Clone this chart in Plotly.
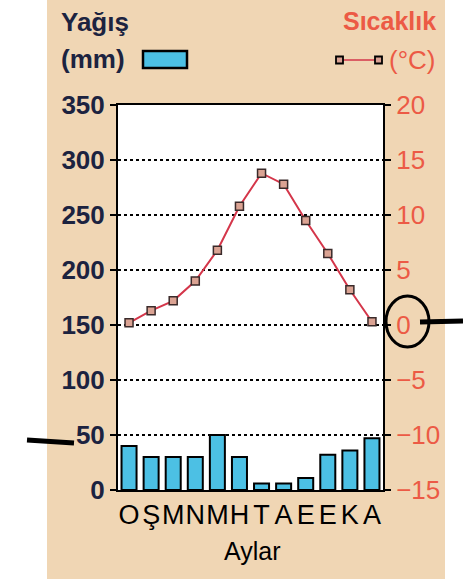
import plotly.graph_objects as go

# ---------------------------------------------------------------------------
# Data
# ---------------------------------------------------------------------------
months      = ["O", "Ş", "M", "N", "M", "H", "T", "A", "E", "E", "K", "A"]
rain_mm     = [40, 30, 30, 30, 50, 30, 6, 6, 11, 32, 36, 47]
temp_c      = [0.2, 1.3, 2.2, 4.0, 6.8, 10.8, 13.8, 12.8, 9.5, 6.5, 3.2, 0.3]
rain_ticks  = [0, 50, 100, 150, 200, 250, 300, 350]
temp_ticks  = [-15, -10, -5, 0, 5, 10, 15, 20]

W, H = 463, 579
L, R, T, B = 118, 80, 105, 89

NAVY   = "#1c2340"
RED    = "#ec5a45"
BEIGE  = "#f0d6b4"
NARROW = "Liberation Sans Narrow, Arial Narrow, Liberation Sans, sans-serif"


def px(x):
    return (x - L) / (W - L - R)


def py(y):
    return (H - B - y) / (H - T - B)


x_idx = list(range(len(months)))

fig = go.Figure()
fig.add_trace(go.Bar(
    x=x_idx, y=rain_mm,
    marker=dict(color="#4cc0e4", line=dict(color="black", width=2)),
    width=0.68, showlegend=False,
))
fig.add_trace(go.Scatter(
    x=x_idx, y=temp_c, yaxis="y2",
    mode="lines+markers",
    line=dict(color="#d4364a", width=2),
    marker=dict(symbol="square", size=8, color="#dba393",
                line=dict(color="#3a2a2a", width=1.5)),
    showlegend=False,
))

shapes = [
    # white page strips outside the beige panel
    dict(type="rect", xref="paper", yref="paper", x0=px(-10), x1=px(47),
         y0=py(-10), y1=py(H + 10), fillcolor="white", line_width=0, layer="below"),
    dict(type="rect", xref="paper", yref="paper", x0=px(445), x1=px(W + 10),
         y0=py(-10), y1=py(H + 10), fillcolor="white", line_width=0, layer="below"),
    # legend: rain box
    dict(type="rect", xref="paper", yref="paper", x0=px(143), x1=px(187),
         y0=py(68), y1=py(51), fillcolor="#4cc0e4", line=dict(color="black", width=2.5)),
    # legend: temperature line + squares
    dict(type="line", xref="paper", yref="paper", x0=px(340), x1=px(378),
         y0=py(60), y1=py(60), line=dict(color="#d4364a", width=1.5)),
    dict(type="rect", xref="paper", yref="paper", x0=px(336), x1=px(343),
         y0=py(63.5), y1=py(56.5), fillcolor="#dba393", line=dict(color="black", width=1.8)),
    dict(type="rect", xref="paper", yref="paper", x0=px(375), x1=px(382),
         y0=py(63.5), y1=py(56.5), fillcolor="#dba393", line=dict(color="black", width=1.8)),
    # hand-drawn pen marks
    dict(type="circle", xref="paper", yref="paper", x0=px(386), x1=px(429),
         y0=py(347), y1=py(296), line=dict(color="black", width=3)),
    dict(type="line", xref="paper", yref="paper", x0=px(420), x1=px(463),
         y0=py(322), y1=py(321), line=dict(color="black", width=5)),
    dict(type="line", xref="paper", yref="paper", x0=px(27), x1=px(74),
         y0=py(440), y1=py(443), line=dict(color="black", width=5)),
]

annotations = [
    dict(text="<b>Yağış</b>", x=px(59), y=py(22), xanchor="left", yanchor="middle",
         font=dict(size=26, color=NAVY, family=NARROW)),
    dict(text="<b>(mm)</b>", x=px(59), y=py(59), xanchor="left", yanchor="middle",
         font=dict(size=26, color=NAVY, family=NARROW)),
    dict(text="Sıcaklık", x=px(438), y=py(21), xanchor="right", yanchor="middle",
         font=dict(size=25, color=RED, family=NARROW, weight="bold")),
    dict(text="(°C)", x=px(438), y=py(60), xanchor="right", yanchor="middle",
         font=dict(size=26, color=RED, family=NARROW)),
    dict(text="Aylar", x=px(252), y=py(551), xanchor="center", yanchor="middle",
         font=dict(size=25, color="black", family=NARROW)),
]
for a in annotations:
    a.update(xref="paper", yref="paper", showarrow=False)

fig.update_layout(
    width=W, height=H,
    margin=dict(l=L, r=R, t=T, b=B),
    paper_bgcolor=BEIGE,
    plot_bgcolor="white",
    bargap=0.3,
    shapes=shapes,
    annotations=annotations,
    xaxis=dict(
        range=[-0.5, 11.5], tickvals=x_idx, ticktext=months, tickangle=0,
        showline=True, mirror=True, linecolor="black", linewidth=2,
        ticks="", showgrid=False, zeroline=False,
        tickfont=dict(size=27, color="black", family=NARROW),
    ),
    yaxis=dict(
        range=[0, 350], tickvals=rain_ticks,
        showline=True, mirror=True, linecolor="black", linewidth=2,
        ticks="outside", ticklen=6, tickwidth=2, tickcolor="black",
        showgrid=True, gridcolor="black", gridwidth=1.6, griddash="dot",
        zeroline=False,
        tickfont=dict(size=26, color=NAVY, family=NARROW, weight="bold"),
    ),
    yaxis2=dict(
        range=[-15, 20], tickvals=temp_ticks, overlaying="y", side="right",
        showline=True, linecolor="black", linewidth=2,
        ticks="outside", ticklen=6, tickwidth=2, tickcolor="black",
        showgrid=False, zeroline=False,
        tickfont=dict(size=26, color=RED, family=NARROW),
    ),
)

fig.write_html("out.html", config={"displayModeBar": False},
               post_script="document.body.style.margin='0';")
